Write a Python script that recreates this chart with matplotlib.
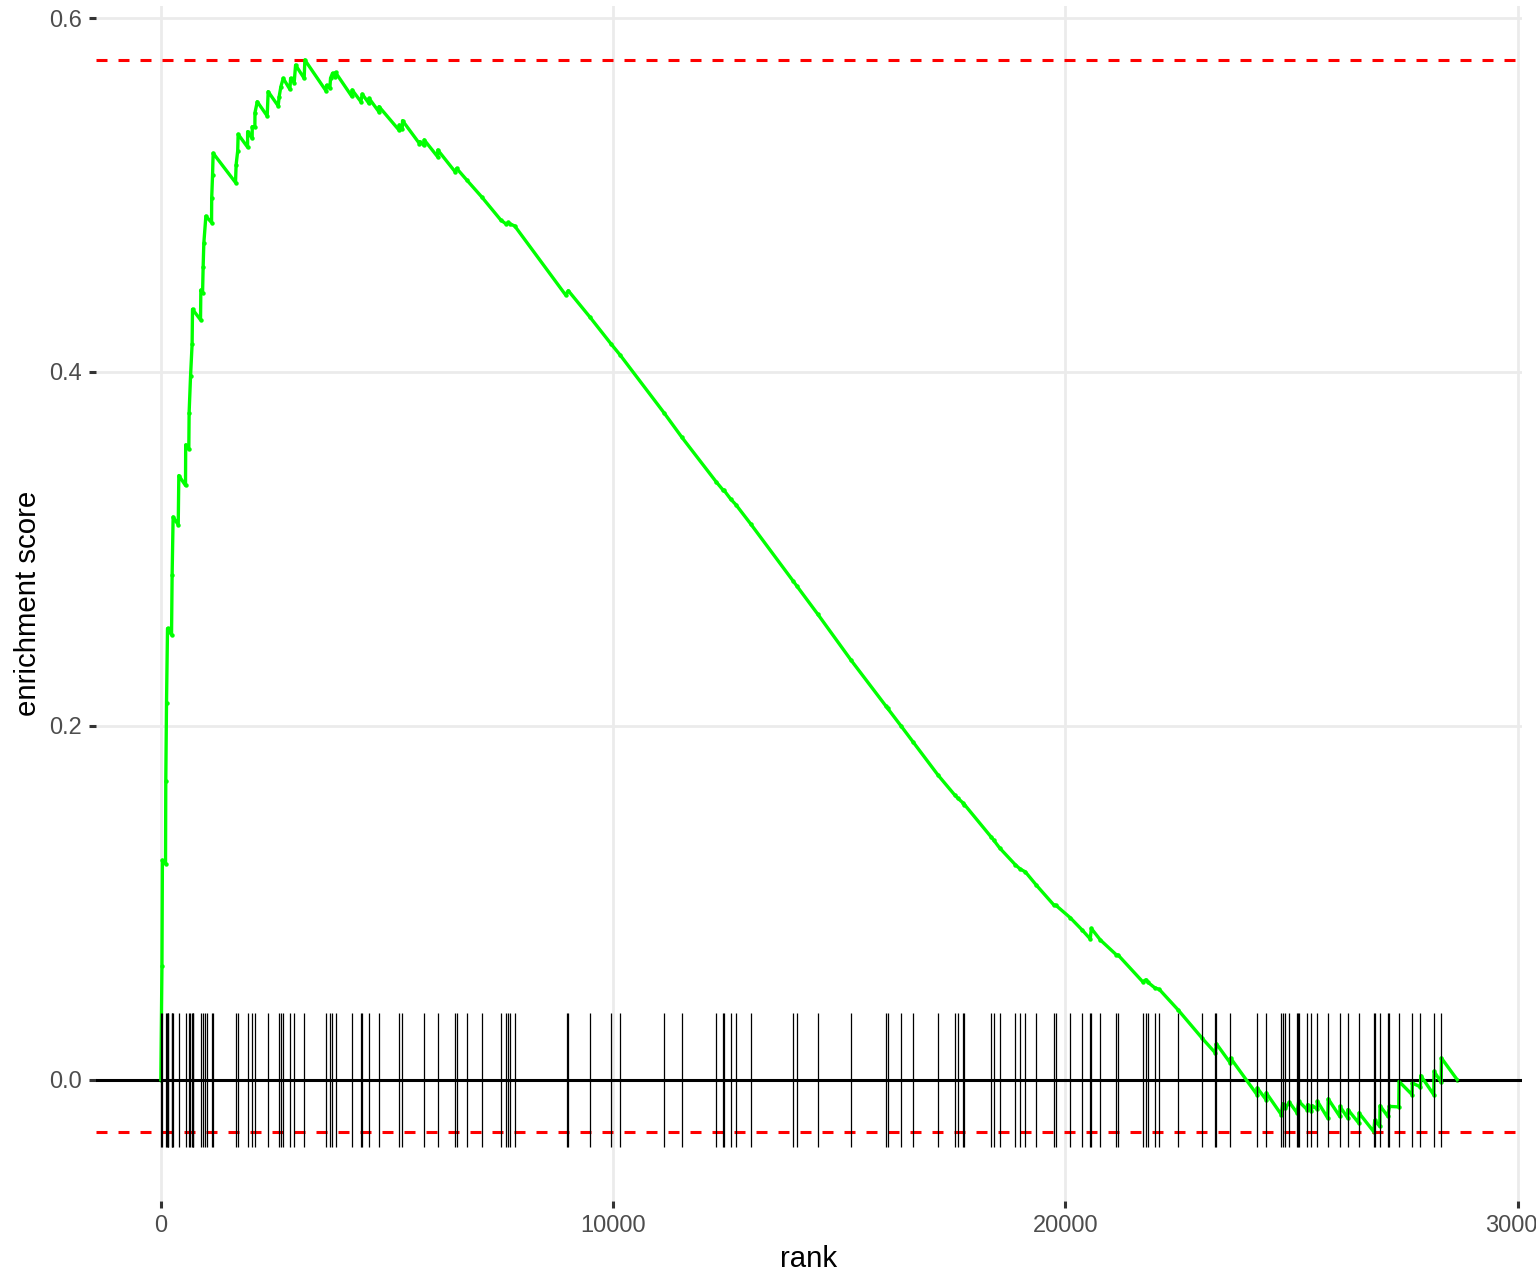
import matplotlib.pyplot as plt

plt.rcParams['font.family'] = ['Liberation Sans', 'DejaVu Sans']

# running enrichment score, vertices
curve_rank = [0, 25, 35, 104, 110, 126, 148, 237, 250, 272, 385, 398, 546, 550,
              619, 626, 657, 692, 701, 878, 885, 923, 936, 951, 996, 1122, 1125,
              1144, 1157, 1652, 1665, 1700, 1710, 1918, 1920, 2020, 2022, 2080,
              2082, 2133, 2352, 2374, 2595, 2617, 2655, 2706, 2854, 2870, 2949,
              2980, 3170, 3185, 3650, 3665, 3738, 3753, 3797, 3850, 3864, 4218,
              4232, 4424, 4453, 4601, 4605, 4822, 4826, 5265, 5275, 5338, 5345,
              5720, 5725, 5820, 5825, 6120, 6125, 6504, 6542, 6763, 7102, 7515,
              7633, 7684, 7721, 7825, 8950, 9011, 9491, 9956, 10155, 11135, 11520,
              12279, 12440, 12456, 12604, 12715, 13046, 13976, 14064, 14529, 15265,
              16040, 16069, 16365, 16630, 17190, 17551, 17626, 17735, 17770, 18363,
              18414, 18547, 18894, 19004, 19115, 19358, 19741, 19794, 20111, 20369,
              20553, 20575, 20774, 21128, 21166, 21710, 21785, 21829, 21975, 22080,
              22493, 23024, 23319, 23341, 23650, 23655, 24240, 24245, 24440, 24445,
              24779, 24807, 24867, 24956, 25126, 25162, 25347, 25360, 25442, 25455,
              25568, 25575, 25803, 25815, 26069, 26075, 26246, 26250, 26489, 26495,
              26821, 26843, 26954, 26960, 27131, 27168, 27374, 27380, 27670, 27675,
              27854, 27860, 28148, 28155, 28312, 28318, 28666]
curve_es = [0.0, 0.064, 0.124, 0.122, 0.169, 0.213, 0.255, 0.2514, 0.285, 0.318,
            0.3136, 0.3414, 0.3358, 0.3588, 0.3563, 0.377, 0.3974, 0.4158, 0.4354,
            0.4294, 0.4463, 0.4444, 0.4595, 0.4727, 0.488, 0.4844, 0.4981, 0.5113,
            0.5236, 0.507, 0.517, 0.5249, 0.5343, 0.527, 0.5358, 0.532, 0.5386,
            0.5382, 0.5465, 0.5527, 0.5446, 0.5584, 0.5503, 0.5556, 0.5612, 0.5659,
            0.5597, 0.5659, 0.5635, 0.5734, 0.5659, 0.5763, 0.5589, 0.562, 0.5603,
            0.566, 0.5688, 0.5665, 0.5692, 0.5559, 0.5593, 0.5527, 0.557, 0.5518,
            0.5546, 0.547, 0.5499, 0.5367, 0.5395, 0.5375, 0.542, 0.529, 0.5301,
            0.528, 0.5311, 0.5216, 0.5254, 0.5132, 0.515, 0.5085, 0.4987, 0.4859,
            0.4836, 0.4845, 0.4836, 0.4825, 0.4435, 0.4459, 0.4309, 0.4158, 0.4096,
            0.3766, 0.3631, 0.3379, 0.333, 0.333, 0.328, 0.325, 0.314, 0.282, 0.279,
            0.263, 0.237, 0.211, 0.21, 0.2, 0.191, 0.172, 0.161, 0.159, 0.1565,
            0.1555, 0.137, 0.1355, 0.131, 0.1215, 0.119, 0.1175, 0.11, 0.0989,
            0.0985, 0.0915, 0.0847, 0.0795, 0.0855, 0.079, 0.0706, 0.0705, 0.0554,
            0.0565, 0.055, 0.052, 0.051, 0.0395, 0.0235, 0.0151, 0.0203, 0.0094,
            0.0122, -0.0085, -0.0047, -0.0113, -0.0075, -0.0198, -0.0136, -0.016,
            -0.0128, -0.0188, -0.0122, -0.0169, -0.0141, -0.0179, -0.0147, -0.0165,
            -0.0122, -0.0217, -0.0109, -0.0207, -0.0151, -0.0217, -0.0169, -0.0245,
            -0.0188, -0.0294, -0.023, -0.0264, -0.0147, -0.0207, -0.0151, -0.0154,
            -0.001, -0.0085, -0.0019, -0.0041, 0.0023, -0.0085, 0.0047, -0.0015,
            0.0122, 0.0]

# pathway gene positions (rug ticks)
hit_ranks = [5, 29, 104, 126, 148, 161, 237, 250, 272, 398, 546, 626, 642, 679,
             701, 715, 878, 936, 973, 1011, 1122, 1157, 1652, 1710, 1918, 2020,
             2080, 2360, 2610, 2655, 2706, 2854, 2949, 3170, 3650, 3738, 3776, 3864,
             4218, 4424, 4453, 4601, 4822, 5265, 5338, 5820, 6120, 6504, 6542, 6763,
             7102, 7515, 7633, 7684, 7721, 7825, 8975, 9011, 9491, 9956, 10155,
             11135, 11520, 12279, 12440, 12456, 12604, 12715, 13046, 13976, 14064,
             14529, 15265, 16040, 16069, 16365, 16630, 17190, 17551, 17626, 17735,
             17770, 18363, 18414, 18547, 18894, 19004, 19115, 19358, 19741, 19794,
             20111, 20369, 20553, 20575, 20774, 21128, 21166, 21710, 21785, 21829,
             21975, 22080, 22493, 23024, 23319, 23341, 23650, 24240, 24440, 24779,
             24807, 24867, 24956, 25126, 25148, 25177, 25347, 25442, 25568, 25803,
             26069, 26246, 26489, 26821, 26843, 26954, 27131, 27168, 27374, 27670,
             27854, 28148, 28312]

x_ticks = [0, 10000, 20000, 30000]
y_ticks = [0.0, 0.2, 0.4, 0.6]

es_max = max(curve_es)
es_min = min(curve_es)
diff = (es_max - es_min) / 8

fig = plt.figure(figsize=(7.68, 6.37), dpi=200)
ax = fig.add_axes([96 / 1536, 73 / 1274, 1426 / 1536, 1195.4 / 1274])

ax.plot(curve_rank, curve_es, 'o', color='#00FF00', ms=1.6, mew=0, zorder=2)
ax.axhline(es_max, color='#FF0000', lw=1.1, ls=(0, (3.6, 3.6)), zorder=3)
ax.axhline(es_min, color='#FF0000', lw=1.1, ls=(0, (3.6, 3.6)), zorder=3)
ax.axhline(0, color='black', lw=1.1, zorder=3)
ax.plot(curve_rank, curve_es, color='#00FF00', lw=1.2, zorder=4)
ax.vlines(hit_ranks, -diff / 2, diff / 2, color='black', lw=0.45, zorder=5)

span = max(curve_rank)
ax.set_xlim(-0.05 * span, span * 1.05)
lo, hi = min(es_min, -diff / 2), max(es_max, diff / 2)
pad = 0.05 * (hi - lo)
ax.set_ylim(lo - pad, hi + pad)

ax.set_xticks(x_ticks)
ax.set_yticks(y_ticks)
ax.set_xticklabels([str(v) for v in x_ticks])
ax.set_yticklabels([f'{v:.1f}' for v in y_ticks])
ax.tick_params(length=2.5, width=1.1, color='#333333', labelcolor='#4D4D4D',
               labelsize=8.5, pad=2.5)
for s in ax.spines.values():
    s.set_visible(False)
ax.grid(color='#EBEBEB', lw=1.0)
ax.set_axisbelow(True)

ax.set_xlabel('rank', fontsize=10.6, labelpad=2.75)
ax.set_ylabel('enrichment score', fontsize=10.6, labelpad=2.75)

fig.savefig('out.png', dpi=200)
